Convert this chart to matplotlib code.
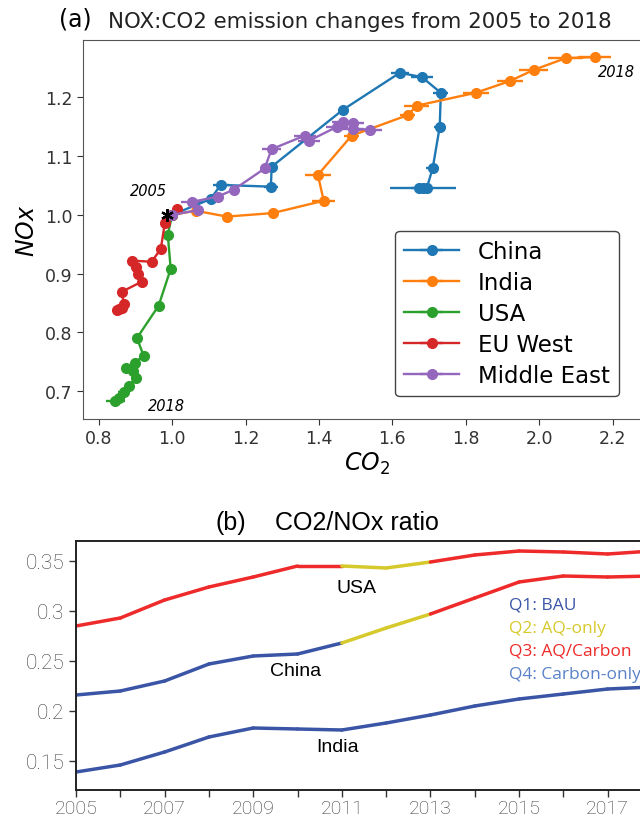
import matplotlib
matplotlib.use('Agg')
import matplotlib.pyplot as plt
import numpy as np

# panel (a): normalised CO2 vs NOx, 2005 -> 2018
china_x = [1.0, 1.105, 1.132, 1.269, 1.271, 1.465, 1.620, 1.680, 1.732, 1.729, 1.710, 1.694, 1.672, 1.684]
china_y = [1.0, 1.027, 1.051, 1.048, 1.082, 1.179, 1.242, 1.235, 1.208, 1.150, 1.080, 1.046, 1.046, 1.046]
china_err = [0, 0.01, 0.022, 0.02, 0.015, 0.01, 0.025, 0.03, 0.02, 0.015, 0.018, 0.015, 0.02, 0.09]

india_x = [1.0, 1.064, 1.149, 1.274, 1.413, 1.397, 1.489, 1.642, 1.666, 1.827, 1.920, 1.985, 2.072, 2.151]
india_y = [1.0, 1.007, 0.997, 1.003, 1.024, 1.068, 1.135, 1.170, 1.186, 1.208, 1.228, 1.247, 1.267, 1.269]
india_err = [0, 0.01, 0.01, 0.01, 0.031, 0.035, 0.02, 0.02, 0.035, 0.035, 0.035, 0.04, 0.047, 0.045]

usa_x = [1.0, 0.988, 0.996, 0.963, 0.904, 0.922, 0.898, 0.873, 0.893, 0.901, 0.883, 0.868, 0.855, 0.845]
usa_y = [1.0, 0.966, 0.908, 0.845, 0.790, 0.760, 0.748, 0.739, 0.733, 0.722, 0.708, 0.698, 0.688, 0.682]
usa_err = [0, 0.005, 0.005, 0.005, 0.01, 0.01, 0.01, 0.008, 0.01, 0.01, 0.01, 0.015, 0.015, 0.026]

eu_x = [1.0, 1.013, 0.980, 0.969, 0.944, 0.890, 0.901, 0.906, 0.917, 0.863, 0.868, 0.862, 0.855, 0.850]
eu_y = [1.0, 1.010, 0.986, 0.942, 0.920, 0.922, 0.911, 0.899, 0.886, 0.869, 0.848, 0.842, 0.840, 0.838]
eu_err = [0, 0.005, 0.005, 0.005, 0.005, 0.005, 0.005, 0.005, 0.005, 0.005, 0.005, 0.005, 0.005, 0.005]

me_x = [1.0, 1.07, 1.053, 1.124, 1.168, 1.252, 1.271, 1.361, 1.372, 1.449, 1.465, 1.492, 1.492, 1.538]
me_y = [1.0, 1.008, 1.022, 1.031, 1.043, 1.079, 1.112, 1.135, 1.126, 1.150, 1.158, 1.157, 1.147, 1.145]
me_err = [0, 0.01, 0.03, 0.015, 0.01, 0.01, 0.025, 0.03, 0.03, 0.03, 0.03, 0.03, 0.03, 0.035]

# panel (b): CO2/NOx ratio
years = list(range(2005, 2019))
usa_ratio = [0.285, 0.293, 0.311, 0.324, 0.334, 0.345, 0.345, 0.343, 0.349, 0.356, 0.360, 0.359, 0.357, 0.360]
china_ratio = [0.216, 0.220, 0.230, 0.247, 0.255, 0.257, 0.268, 0.283, 0.297, 0.313, 0.329, 0.335, 0.334, 0.335]
india_ratio = [0.139, 0.146, 0.159, 0.174, 0.183, 0.182, 0.181, 0.188, 0.196, 0.205, 0.212, 0.217, 0.222, 0.224]
# quadrant of each yearly segment
usa_quad = ['Q3'] * 6 + ['Q2'] * 2 + ['Q3'] * 5
china_quad = ['Q1'] * 6 + ['Q2'] * 2 + ['Q3'] * 5
india_quad = ['Q1'] * 13

quad_labels = ['Q1: BAU', 'Q2: AQ-only', 'Q3: AQ/Carbon', 'Q4: Carbon-only']
quad_colors = {'Q1': '#3a55a5', 'Q2': '#d6c92c', 'Q3': '#ee2a2a', 'Q4': '#5a82c8'}

fig = plt.figure(figsize=(6.4, 8.2), dpi=100)

# ---------------- (a)
ax = fig.add_axes([83 / 640, 1 - 420 / 820, (650 - 83) / 640, (420 - 41) / 820])
series = [
    ('China', china_x, china_y, china_err, '#1f77b4'),
    ('India', india_x, india_y, india_err, '#ff7f0e'),
    ('USA', usa_x, usa_y, usa_err, '#2ca02c'),
    ('EU West', eu_x, eu_y, eu_err, '#d62728'),
    ('Middle East', me_x, me_y, me_err, '#9467bd'),
]
for name, xs, ys, err, col in series:
    ax.errorbar(xs, ys, xerr=err, color=col, marker='o', markersize=7,
                linewidth=1.7, elinewidth=1.7, capsize=0, label=name)

ax.plot([0.985], [1.0], marker=(6, 2, 0), color='black', markersize=9,
        markeredgewidth=1.6, linestyle='none', zorder=10)
ax.text(0.934, 1.041, '2005', fontsize=10.5, style='italic', ha='center', va='center')
ax.text(2.211, 1.245, '2018', fontsize=10.5, style='italic', ha='center', va='center')
ax.text(0.985, 0.675, '2018', fontsize=10.5, style='italic', ha='center', va='center')

ax.set_xlim(0.757, 2.302)
ax.set_ylim(0.652, 1.298)
ax.set_xticks([0.8, 1.0, 1.2, 1.4, 1.6, 1.8, 2.0, 2.2])
ax.set_yticks([0.7, 0.8, 0.9, 1.0, 1.1, 1.2])
ax.tick_params(labelsize=12.5, colors='#333333', length=4)
for s in ax.spines.values():
    s.set_color('#555555')
ax.set_xlabel(r'$CO_2$', fontsize=17, labelpad=2)
ax.set_ylabel(r'$NOx$', fontsize=17, labelpad=4)

ax.legend(loc='lower right', bbox_to_anchor=(0.965, 0.03), fontsize=16.5,
          frameon=True, edgecolor='#444444', framealpha=1, handlelength=2.4,
          labelspacing=0.35, borderpad=0.4)

fig.text(75 / 640, 1 - 20 / 820, '(a)', fontsize=17, ha='center', va='center')
fig.text(360 / 640, 1 - 22 / 820, 'NOX:CO2 emission changes from 2005 to 2018',
         fontsize=15.4, ha='center', va='center', color='#222222')

# ---------------- (b)
bx = fig.add_axes([76 / 640, 1 - 791 / 820, (652 - 76) / 640, (791 - 542) / 820])
for vals, quads in [(usa_ratio, usa_quad), (china_ratio, china_quad), (india_ratio, india_quad)]:
    for i, q in enumerate(quads):
        bx.plot(years[i:i + 2], vals[i:i + 2], color=quad_colors[q], linewidth=2.5,
                solid_capstyle='round')

bx.text(2011.32, 0.3235, 'USA', fontsize=14, ha='center', va='center', family='Liberation Sans')
bx.text(2009.95, 0.2405, 'China', fontsize=14, ha='center', va='center', family='Liberation Sans')
bx.text(2010.9, 0.164, 'India', fontsize=14, ha='center', va='center', family='Liberation Sans')

for k, (lab, yy) in enumerate(zip(quad_labels, [0.3063, 0.283, 0.26, 0.2367])):
    bx.text(2014.77, yy, lab, fontsize=12.5, color=quad_colors['Q%d' % (k + 1)],
            ha='left', va='center', family='Open Sans')

bx.set_xlim(2005, 2018)
bx.set_ylim(0.121, 0.37)
bx.set_xticks(list(range(2005, 2018, 2)))
bx.set_xticks(years, minor=True)
bx.set_yticks([0.15, 0.2, 0.25, 0.3, 0.35])
bx.set_yticklabels(['0.15', '0.2', '0.25', '0.3', '0.35'])
bx.tick_params(which='both', length=5, width=1, colors='#333333')
bx.tick_params(axis='x', pad=1.5)
for lab in bx.get_yticklabels():
    lab.set_fontfamily('Roboto')
    lab.set_fontweight('light')
    lab.set_fontsize(15)
    lab.set_color('#3a3a3a')
for lab in bx.get_xticklabels():
    lab.set_fontfamily('Roboto')
    lab.set_fontweight('light')
    lab.set_fontsize(14)
    lab.set_color('#3a3a3a')
for s in bx.spines.values():
    s.set_color('#222222')
    s.set_linewidth(1.4)

fig.text(231 / 640, 1 - 523 / 820, '(b)', fontsize=18, ha='center', va='center', family='Liberation Sans')
fig.text(357 / 640, 1 - 523 / 820, 'CO2/NOx ratio', fontsize=18, ha='center', va='center', family='Liberation Sans')

fig.savefig('out.png', dpi=100)
